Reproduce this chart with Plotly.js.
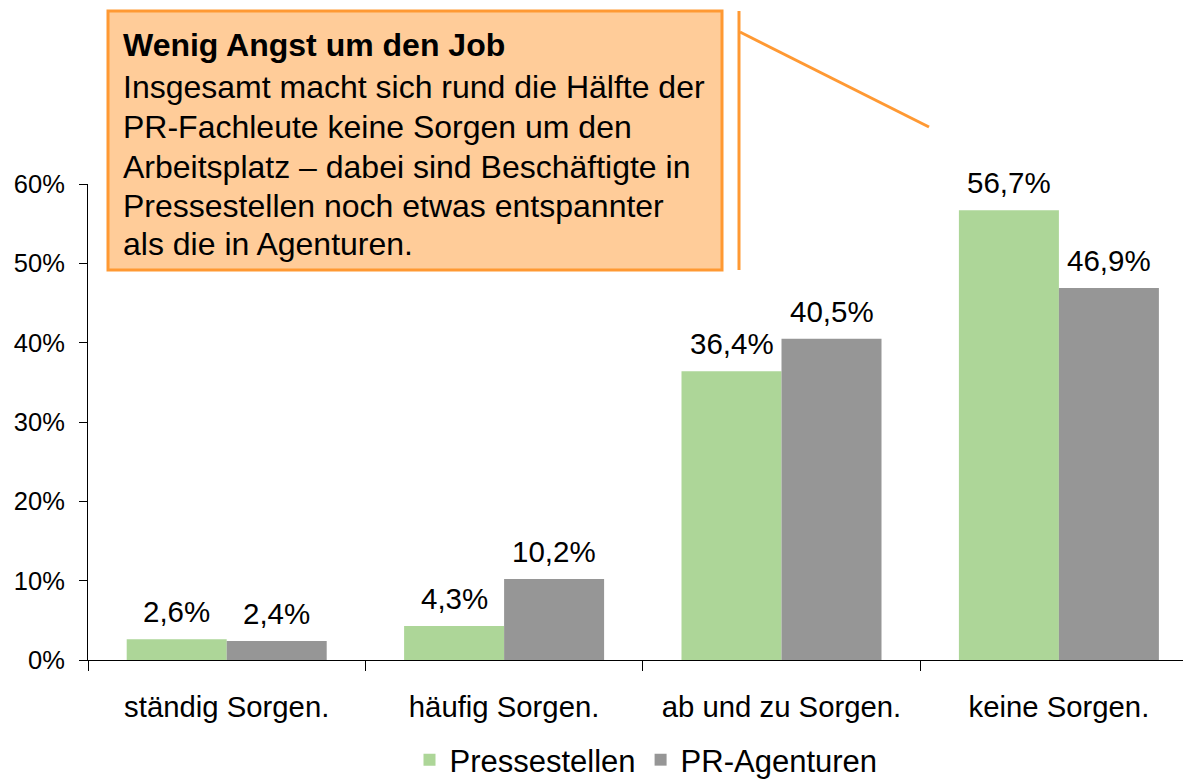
<!DOCTYPE html>
<html>
<head>
<meta charset="utf-8">
<script src="https://cdn.plot.ly/plotly-3.0.1.min.js"></script>
<style>html,body{margin:0;padding:0;background:#fff;}#chart{width:1183px;height:779px;}</style>
</head>
<body>
<div id="chart"></div>
<script>
// ---- data ----
const categories = ["ständig Sorgen.", "häufig Sorgen.", "ab und zu Sorgen.", "keine Sorgen."];
const pressestellen = [0.026, 0.043, 0.364, 0.567];
const agenturen = [0.024, 0.102, 0.405, 0.469];
const seriesNames = ["Pressestellen", "PR-Agenturen"];
const yTickValues = [0, 0.1, 0.2, 0.3, 0.4, 0.5, 0.6];
const calloutTitle = "Wenig Angst um den Job";
const calloutLines = [
  "Insgesamt macht sich rund die Hälfte der",
  "PR-Fachleute keine Sorgen um den",
  "Arbeitsplatz – dabei sind Beschäftigte in",
  "Pressestellen noch etwas entspannter",
  "als die in Agenturen."
];

// ---- layout helpers (pixel -> paper) ----
const W = 1183, H = 779;
const M = {l: 88, r: 0, t: 184, b: 119, autoexpand: false};
const PW = W - M.l - M.r, PH = H - M.t - M.b;
const px = x => (x - M.l) / PW;
const py = y => (H - M.b - y) / PH;

const FONT = '"Liberation Sans", Arial, sans-serif';
const GREEN = '#ADD698', GRAY = '#969696', ORANGE = '#FF9933', PEACH = '#FFCC99';

const fmt = v => (v * 100).toFixed(1).replace('.', ',') + '%';

const traces = [
  {type: 'bar', name: seriesNames[0], x: categories, y: pressestellen,
   marker: {color: GREEN}, hoverinfo: 'skip'},
  {type: 'bar', name: seriesNames[1], x: categories, y: agenturen,
   marker: {color: GRAY}, hoverinfo: 'skip'}
];

const annotations = [];
[[pressestellen, -50], [agenturen, 50]].forEach(([vals, dx]) => {
  vals.forEach((v, i) => {
    annotations.push({x: categories[i], y: v, xref: 'x', yref: 'y', text: fmt(v),
      showarrow: false, xshift: dx, yanchor: 'bottom', yshift: 9,
      font: {family: FONT, size: 29.5, color: '#000'}});
  });
});
annotations.push({xref: 'paper', yref: 'paper', x: px(121), y: py(45), xanchor: 'left', yanchor: 'middle',
  text: '<b>' + calloutTitle + '</b>', showarrow: false, align: 'left',
  font: {family: FONT, size: 32, color: '#000'}});
const lineCenters = [87, 127, 167, 206, 244];
calloutLines.forEach((t, i) => {
  annotations.push({xref: 'paper', yref: 'paper', x: px(121), y: py(lineCenters[i]), xanchor: 'left', yanchor: 'middle',
    text: t, showarrow: false, align: 'left',
    font: {family: FONT, size: 32, color: '#000'}});
});

const shapes = [
  {type: 'rect', xref: 'paper', yref: 'paper', x0: px(108), x1: px(722), y0: py(270), y1: py(11),
   fillcolor: PEACH, line: {color: ORANGE, width: 3}, layer: 'above'},
  {type: 'line', xref: 'paper', yref: 'paper', x0: px(739), x1: px(739), y0: py(11), y1: py(270),
   line: {color: ORANGE, width: 3}},
  {type: 'line', xref: 'paper', yref: 'paper', x0: px(740), x1: px(929), y0: py(32), y1: py(127),
   line: {color: ORANGE, width: 3}}
];

const layout = {
  width: W, height: H,
  margin: M,
  paper_bgcolor: '#fff', plot_bgcolor: '#fff',
  font: {family: FONT, color: '#000'},
  barmode: 'group', bargap: 0.279, bargroupgap: 0,
  showlegend: true,
  legend: {orientation: 'h', x: px(646), xanchor: 'center', y: py(787), yanchor: 'bottom',
    font: {family: FONT, size: 31, color: '#000'}, itemclick: false, itemdoubleclick: false,
    traceorder: 'normal'},
  xaxis: {type: 'category', range: [-0.5, -0.5 + PW / 277.4], tickson: 'boundaries',
    ticks: 'outside', ticklen: 10, tickcolor: '#000', showline: true, linecolor: '#000', linewidth: 1,
    showgrid: false, zeroline: false, ticklabelstandoff: 21, automargin: false,
    tickfont: {family: FONT, size: 29.3, color: '#000'}, fixedrange: true},
  yaxis: {range: [0, 0.6], tickvals: yTickValues, tickformat: '.0%', ticks: 'outside', ticklen: 8,
    tickcolor: '#000', showline: true, linecolor: '#000', linewidth: 1, showgrid: false, zeroline: false,
    automargin: false,
    ticklabelstandoff: 9, tickfont: {family: FONT, size: 25.5, color: '#000'}, fixedrange: true},
  annotations: annotations,
  shapes: shapes
};

Plotly.newPlot('chart', traces, layout, {displayModeBar: false, staticPlot: true});
</script>
</body>
</html>
